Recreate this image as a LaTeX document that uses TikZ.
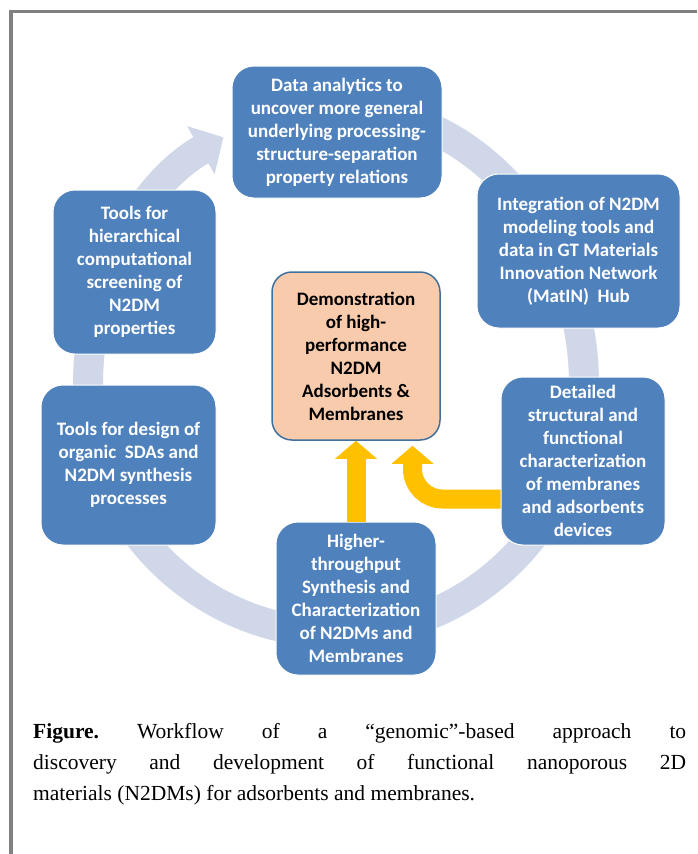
\documentclass[tikz,border=0pt]{standalone}
\usepackage{fontspec}
\setmainfont{Liberation Serif}
\newfontfamily\calib{Carlito}
\usetikzlibrary{arrows.meta}
\definecolor{stageblue}{RGB}{79,129,189}
\definecolor{ringgray}{RGB}{207,215,232}
\definecolor{peach}{RGB}{248,203,173}
\definecolor{peachline}{RGB}{65,113,156}
\definecolor{amber}{RGB}{255,192,0}
\definecolor{framegray}{RGB}{128,128,128}

\begin{document}
\begin{tikzpicture}[x=1pt, y=1pt,
  stage/.style={rectangle, rounded corners=22pt, fill=stageblue, draw=white,
    line width=1pt, text=white, align=center, inner sep=0pt,
    font=\calib\bfseries\fontsize{19}{23}\selectfont},
  goal/.style={stage, fill=peach, draw=peachline, line width=1.5pt, text=black},
  push/.style={amber, line width=19pt, -{Triangle[width=41pt, length=18pt]}}]

  \useasboundingbox (0,0) rectangle (697,-854);
  \fill[white] (0,0) rectangle (697,-854);
  % frame
  \draw[framegray, line width=3.5pt] (697,-11.5) -- (11,-11.5) -- (11,-854);

  % cycle ring behind the stages
  \coordinate (ringc) at (336,-385);
  \draw[ringgray, line width=30pt, -{Triangle[width=54pt, length=26pt]}]
    (ringc) ++(70:248pt and 278pt)
    arc[start angle=70, end angle=0, x radius=248pt, y radius=278pt]
    arc[start angle=0, end angle=-180, x radius=248pt, y radius=248pt]
    arc[start angle=180, end angle=117, x radius=248pt, y radius=278pt];

  \node[stage, minimum width=210pt, minimum height=132pt] (analytics) at (337,-132)
    {Data analytics to\\uncover more general\\underlying processing-\\structure-separation\\property relations};
  \node[stage, minimum width=203pt, minimum height=154pt] (matin) at (578.5,-251)
    {Integration of N2DM\\modeling tools and\\data in GT Materials\\Innovation Network\\(MatIN)~~Hub};
  \node[stage, minimum width=163pt, minimum height=164pt] (screening) at (134.5,-272)
    {Tools for\\hierarchical\\computational\\screening of\\N2DM\\properties};
  \node[goal, rounded corners=20pt, minimum width=168pt, minimum height=168pt] (demo) at (356,-356)
    {Demonstration\\of high-\\performance\\N2DM\\Adsorbents \&\\Membranes};
  \node[stage, minimum width=164pt, minimum height=168pt] (detail) at (583,-461)
    {Detailed\\structural and\\functional\\characterization\\of membranes\\and adsorbents\\devices};
  \node[stage, minimum width=175pt, minimum height=160pt] (design) at (128.5,-465)
    {Tools for design of\\organic~~SDAs and\\N2DM synthesis\\processes};
  \node[stage, minimum width=160pt, minimum height=153pt] (synth) at (356,-598.5)
    {Higher-\\throughput\\Synthesis and\\Characterization\\of N2DMs and\\Membranes};

  % feeds into the demonstration
  \draw[push] (synth.north) -- (demo.south);
  \draw[push, rounded corners=30pt] ([yshift=-38pt]detail.west) -| ([xshift=56.5pt, yshift=-5pt]demo.south);

  \node[anchor=north west, inner sep=0pt, text width=653pt, align=justify,
    font=\fontsize{21.5}{31}\selectfont] (caption) at (33,-723)
    {\frenchspacing\textbf{Figure.} Workflow of a “genomic”-based approach to\linebreak
     discovery and development of functional nanoporous 2D\linebreak
     materials (N2DMs) for adsorbents and membranes.};
\end{tikzpicture}
\end{document}
